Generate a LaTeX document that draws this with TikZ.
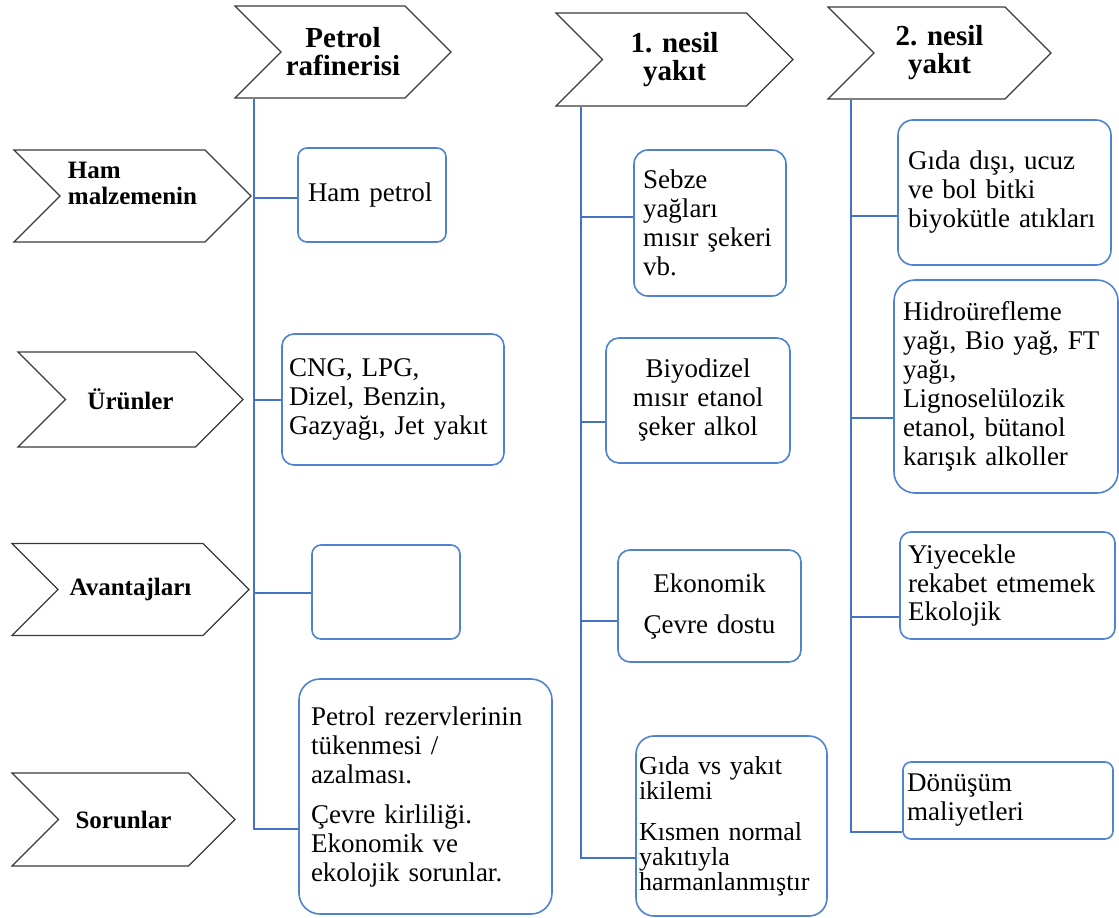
\documentclass[tikz,border=0pt]{standalone}
\usepackage{fontspec}
\setmainfont{Liberation Serif}
\usetikzlibrary{shapes.symbols}

\definecolor{lineblue}{HTML}{4472C4}
\definecolor{boxblue}{HTML}{5082D2}
\definecolor{chevgray}{HTML}{3A3A3A}

\tikzset{
  hdr/.style={shape=signal, signal from=west, signal to=east, signal pointer angle=90,
    draw=chevgray, line width=1.2pt, inner sep=0pt, align=center,
    font=\bfseries\fontsize{29}{28}\selectfont},
  side/.style={hdr, align=left, font=\bfseries\fontsize{25}{26}\selectfont},
  item/.style={draw=boxblue, line width=1.6pt, fill=white, inner ysep=0pt, align=left,
    font=\fontsize{27}{29}\selectfont},
  link/.style={draw=lineblue, line width=1.5pt},
}

\begin{document}
\begin{tikzpicture}[x=1pt, y=-1pt]
  \useasboundingbox (0,0) rectangle (1119,918);

  % column heads
  \node[hdr, minimum width=216pt, minimum height=92pt] (hdrP) at (343,52) {Petrol\\rafinerisi};
  \node[hdr, minimum width=237pt, minimum height=93pt] (hdrA) at (674.5,59.5) {1. nesil\\yakıt};
  \node[hdr, minimum width=223pt, minimum height=92pt] (hdrB) at (939.5,53) {2. nesil\\yakıt};

  % row heads
  \node[side, minimum width=237pt, minimum height=92pt] (ham) at (132.5,196) {Ham\\malzemenin\\\mbox{}};
  \node[side, minimum width=225pt, minimum height=95pt] (urun) at (130.5,399.5) {Ürünler};
  \node[side, minimum width=237pt, minimum height=92pt] (avan) at (130.5,589.5) {Avantajları};
  \node[side, minimum width=223pt, minimum height=93pt] (sorun) at (123.5,819.5) {Sorunlar};

  % petrol rafinerisi
  \node[item, text width=128pt, inner xsep=10pt, minimum height=94pt, rounded corners=9pt] (hampet) at (372,195) {Ham petrol};
  \node[item, text width=208pt, inner xsep=7pt, minimum height=131pt, rounded corners=12pt] (cng) at (393,399.5) {CNG, LPG,\\Dizel, Benzin,\\Gazyağı, Jet yakıt};
  \node[item, text width=128pt, inner xsep=10pt, minimum height=94pt, rounded corners=9pt] (bos) at (386,592) {};
  \node[item, text width=229pt, inner xsep=12pt, minimum height=235pt, rounded corners=21pt] (rez) at (425.5,796.5)
    {Petrol rezervlerinin\\tükenmesi /\\azalması.\\[11pt]Çevre kirliliği.\\Ekonomik ve\\ekolojik sorunlar.};

  % 1. nesil
  \node[item, text width=134pt, inner xsep=9pt, minimum height=146pt, rounded corners=14pt] (sebze) at (710,223) {Sebze\\yağları\\mısır şekeri\\vb.};
  \node[item, align=center, text width=168pt, inner xsep=8pt, minimum height=125pt, rounded corners=13pt] (biyo) at (698,400.5) {Biyodizel\\mısır etanol\\şeker alkol};
  \node[item, align=center, text width=167pt, inner xsep=8pt, minimum height=112pt, rounded corners=12pt] (eko) at (709.5,606) {Ekonomik\\[12pt]Çevre dostu};
  \node[item, text width=185pt, inner xsep=3pt, minimum height=180pt, rounded corners=18pt, font=\fontsize{26}{25}\selectfont] (gvs) at (731.5,826)
    {Gıda vs yakıt\\ikilemi\\[16pt]Kısmen normal\\yakıtıyla\\harmanlanmıştır};

  % 2. nesil
  \node[item, text width=193pt, inner xsep=10pt, minimum height=145pt, rounded corners=15pt] (gdisi) at (1004.5,192.5) {Gıda dışı, ucuz\\ve bol bitki\\biyokütle atıkları};
  \node[item, text width=206pt, inner xsep=9pt, minimum height=213pt, rounded corners=21pt] (hidro) at (1006,386.5)
    {Hidroürefleme\\yağı, Bio yağ, FT\\yağı,\\Lignoselülozik\\etanol, bütanol\\karışık alkoller};
  \node[item, text width=199pt, inner xsep=8pt, minimum height=107pt, rounded corners=11pt] (yiye) at (1007.5,585.5) {Yiyecekle\\rekabet etmemek\\Ekolojik};
  \node[item, text width=202pt, inner xsep=4pt, minimum height=77pt, rounded corners=8pt] (donus) at (1008,800.5) {Dönüşüm\\maliyetleri};

  % spines
  \coordinate (c1) at (254,0);
  \coordinate (c2) at (581,0);
  \coordinate (c3) at (851,0);
  \draw[link] (hdrP.south -| c1) |- ([yshift=-32.5pt]rez.west);
  \draw[link] (hdrA.south -| c2) |- ([yshift=-32pt]gvs.west);
  \draw[link] (hdrB.south -| c3) |- ([yshift=-31.5pt]donus.west);

  % branches
  \draw[link] ([yshift=-3pt]hampet.west -| c1) to ([yshift=-3pt]hampet.west);
  \draw[link] ([yshift=-0.5pt]cng.west -| c1) to ([yshift=-0.5pt]cng.west);
  \draw[link] ([yshift=-1pt]bos.west -| c1) to ([yshift=-1pt]bos.west);
  \draw[link] ([yshift=6pt]sebze.west -| c2) to ([yshift=6pt]sebze.west);
  \draw[link] ([yshift=-21.5pt]biyo.west -| c2) to ([yshift=-21.5pt]biyo.west);
  \draw[link] ([yshift=-15pt]eko.west -| c2) to ([yshift=-15pt]eko.west);
  \draw[link] ([yshift=-23.5pt]gdisi.west -| c3) to ([yshift=-23.5pt]gdisi.west);
  \draw[link] ([yshift=-31.5pt]hidro.west -| c3) to ([yshift=-31.5pt]hidro.west);
  \draw[link] ([yshift=-31.5pt]yiye.west -| c3) to ([yshift=-31.5pt]yiye.west);
\end{tikzpicture}
\end{document}
